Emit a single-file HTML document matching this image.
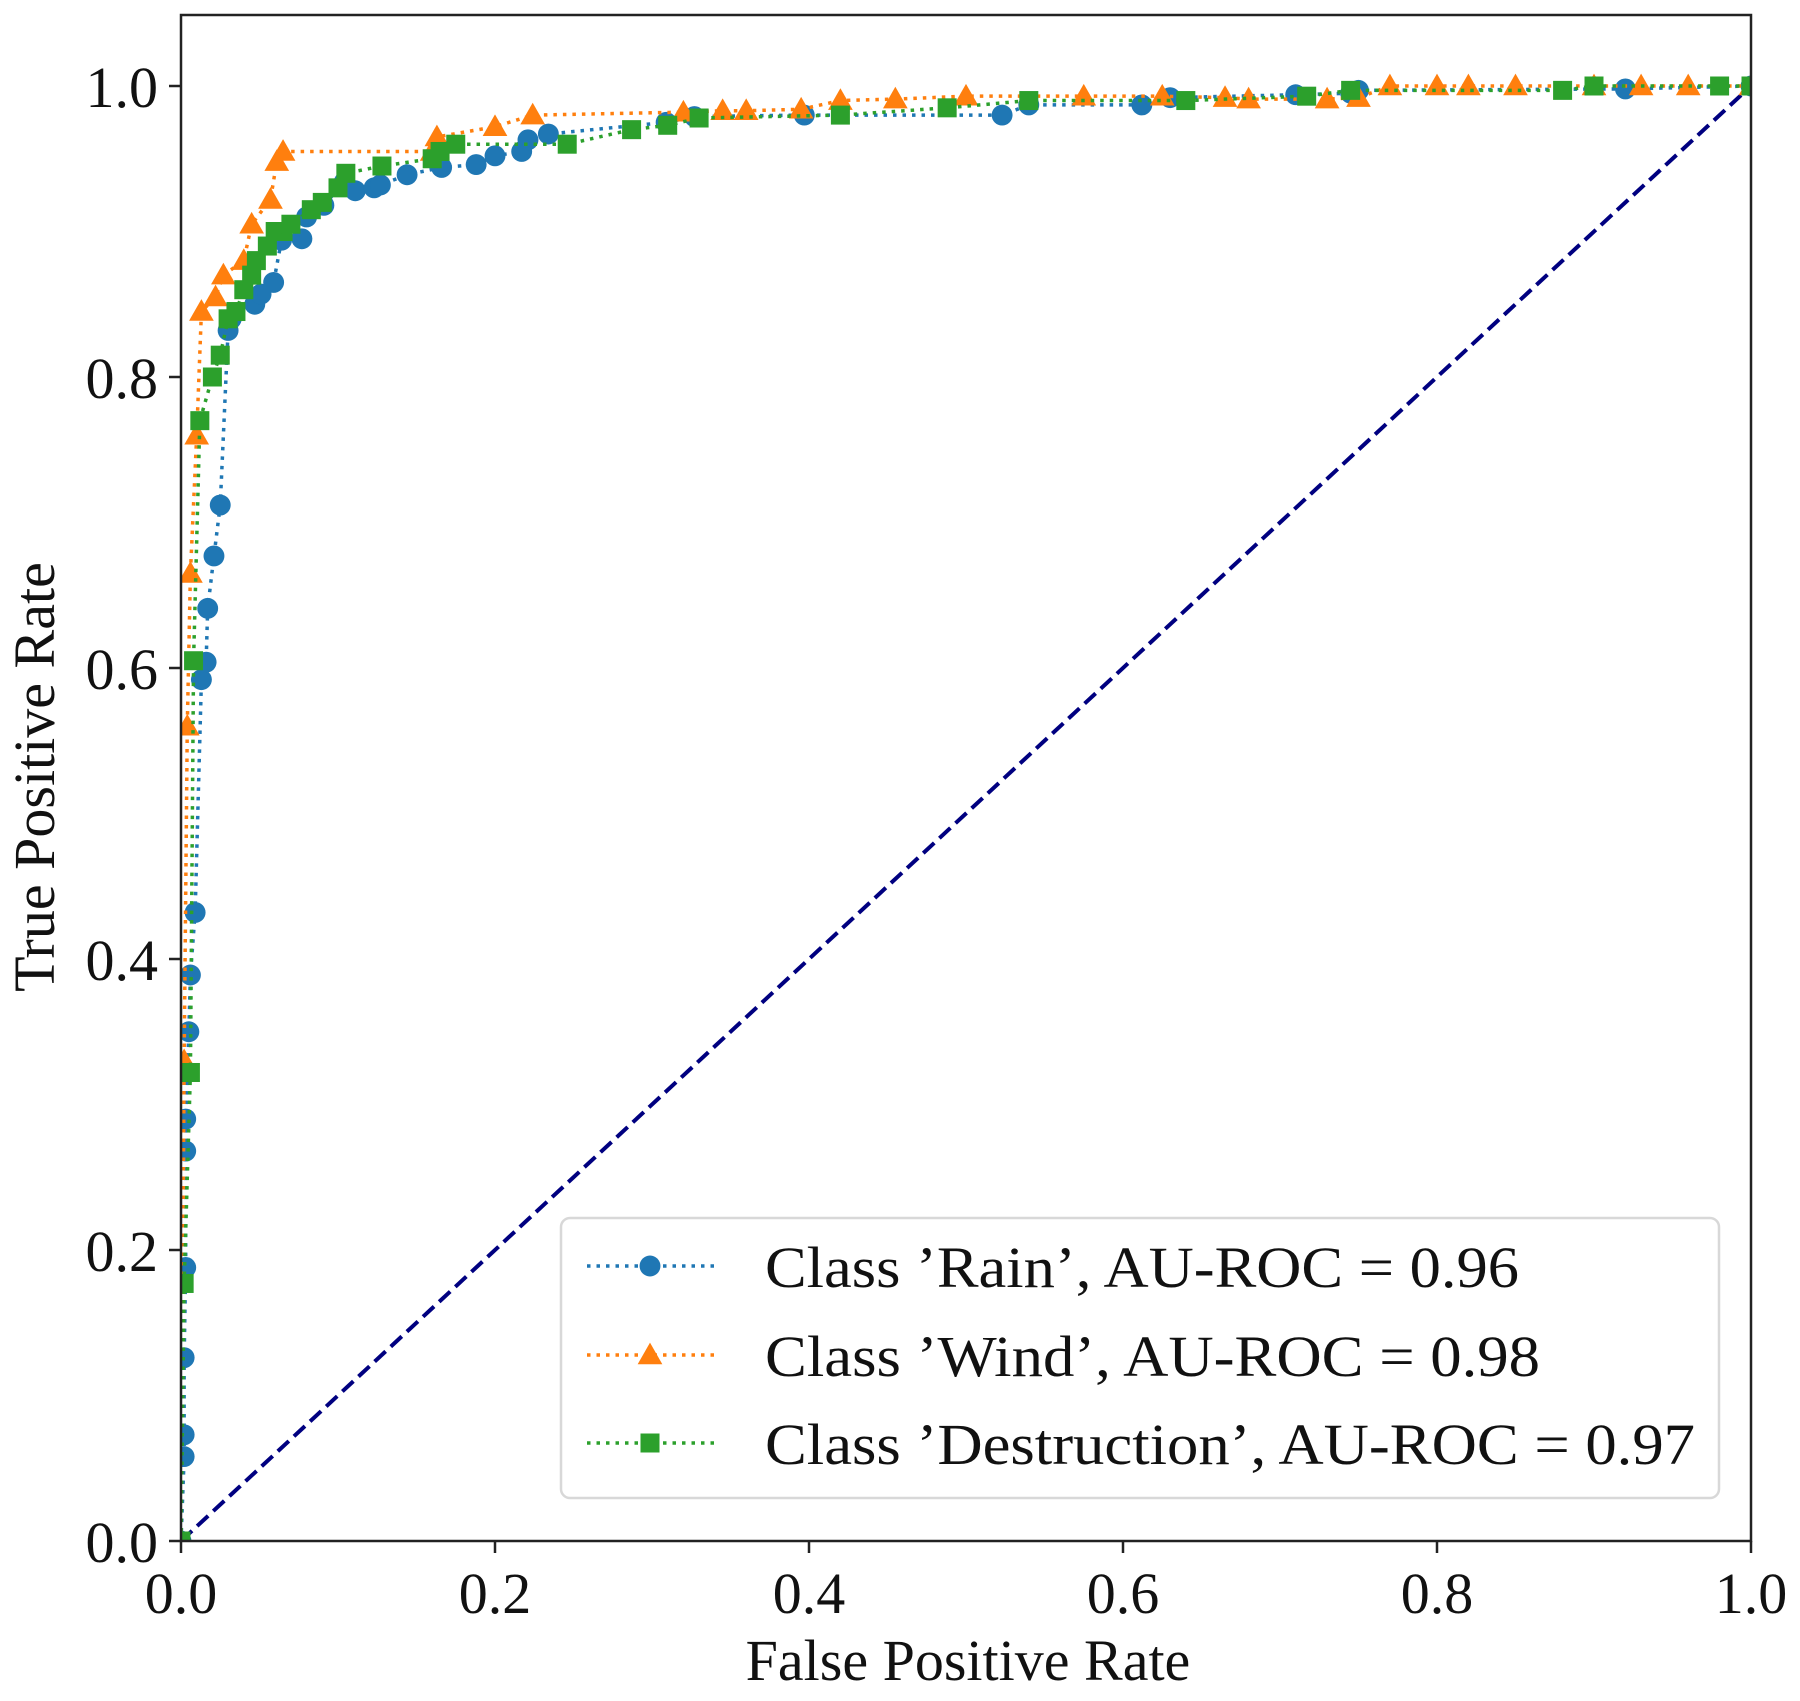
<!DOCTYPE html>
<html><head><meta charset="utf-8"><style>
html,body{margin:0;padding:0;background:#fff;}
svg text{font-family:"Liberation Serif",serif;fill:#111;}
</style></head><body>
<svg id="chart" width="1800" height="1696" viewBox="0 0 1800 1696" xmlns="http://www.w3.org/2000/svg">
<rect x="0" y="0" width="1800" height="1696" fill="#fff"/>
<g id="plot"></g>
<g id="axes"></g>
<g id="legend"></g>
</svg>
<script>
const xTicks = [0, 0.2, 0.4, 0.6, 0.8, 1.0];
const yTicks = [0, 0.2, 0.4, 0.6, 0.8, 1.0];
const tickLabels = ["0.0", "0.2", "0.4", "0.6", "0.8", "1.0"];
const rainX = [0,0.002,0.002,0.002,0.003,0.003,0.003,0.005,0.006,0.009,0.013,0.016,0.017,0.021,0.025,0.03,0.032,0.047,0.051,0.059,0.064,0.077,0.08,0.091,0.104,0.111,0.123,0.127,0.144,0.166,0.188,0.2,0.217,0.221,0.234,0.309,0.327,0.397,0.523,0.54,0.612,0.63,0.71,0.745,0.75,0.92,1];
const rainY = [0,0.058,0.073,0.126,0.188,0.268,0.29,0.35,0.389,0.432,0.592,0.604,0.641,0.677,0.712,0.832,0.84,0.85,0.857,0.865,0.894,0.895,0.91,0.918,0.934,0.928,0.93,0.932,0.939,0.944,0.946,0.952,0.955,0.963,0.967,0.975,0.979,0.98,0.98,0.987,0.987,0.992,0.994,0.995,0.997,0.998,1];
const windX = [0,0.002,0.004,0.006,0.01,0.013,0.022,0.027,0.04,0.045,0.057,0.061,0.065,0.16,0.163,0.2,0.224,0.32,0.345,0.36,0.395,0.42,0.455,0.5,0.575,0.625,0.665,0.68,0.73,0.75,0.77,0.8,0.82,0.85,0.9,0.93,0.96,1];
const windY = [0,0.33,0.56,0.665,0.76,0.845,0.855,0.87,0.88,0.905,0.922,0.948,0.955,0.955,0.965,0.972,0.98,0.982,0.983,0.983,0.984,0.99,0.991,0.993,0.993,0.993,0.992,0.991,0.991,0.992,1,1,1,1,1,1,1,1];
const destX = [0,0.002,0.006,0.008,0.012,0.02,0.025,0.03,0.035,0.04,0.045,0.048,0.055,0.06,0.065,0.07,0.083,0.09,0.1,0.105,0.128,0.16,0.165,0.175,0.246,0.287,0.31,0.33,0.42,0.488,0.54,0.64,0.717,0.745,0.88,0.9,0.98,1];
const destY = [0,0.177,0.322,0.605,0.77,0.8,0.815,0.84,0.845,0.86,0.87,0.88,0.89,0.9,0.9,0.905,0.915,0.92,0.93,0.94,0.945,0.95,0.955,0.96,0.96,0.97,0.973,0.978,0.98,0.985,0.99,0.99,0.993,0.997,0.997,1,1,1];
const seriesNames = ["Class \u2019Rain\u2019, AU-ROC = 0.96","Class \u2019Wind\u2019, AU-ROC = 0.98","Class \u2019Destruction\u2019, AU-ROC = 0.97"];

const NS="http://www.w3.org/2000/svg";
const X0=181,X1=1751,Y0=1541,Y1=86,TOP=15;
function sx(v){return X0+v*(X1-X0);}
function sy(v){return Y0-v*(Y0-Y1);}
function mk(tag,attrs,parent){const e=document.createElementNS(NS,tag);for(const k in attrs)e.setAttribute(k,attrs[k]);parent.appendChild(e);return e;}
const plot=document.getElementById('plot'),axes=document.getElementById('axes'),legend=document.getElementById('legend');

// clip
const defs=mk('defs',{},plot);
const cp=mk('clipPath',{id:'clip'},defs);
mk('rect',{x:X0,y:TOP,width:X1-X0,height:Y0-TOP},cp);
const inner=mk('g',{'clip-path':'url(#clip)'},plot);

// diagonal
const diag=mk('line',{x1:sx(0),y1:sy(0),x2:sx(1),y2:sy(1),stroke:'#000080','stroke-width':4,'stroke-dasharray':'15 7'},inner);



function marker(type,x,y,color,parent,size){
  let e;
  if(type==='circle'){e=mk('circle',{cx:x,cy:y,r:size*0.55,fill:color},parent);}
  else if(type==='tri'){const s=size*0.65;e=mk('polygon',{points:`${x},${y-s} ${x-s},${y+s*0.75} ${x+s},${y+s*0.75}`,fill:color},parent);}
  else {const s=size*0.5;e=mk('rect',{x:x-s,y:y-s,width:2*s,height:2*s,fill:color},parent);}
  return e;
}
const series=[
 {xs:rainX,ys:rainY,color:'#1f77b4',m:'circle',name:'rain'},
 {xs:windX,ys:windY,color:'#ff7f0e',m:'tri',name:'wind'},
 {xs:destX,ys:destY,color:'#2ca02c',m:'square',name:'destruction'}
];
series.forEach(s=>{
  const g=mk('g',{},inner);
  
  
  const pts=s.xs.map((v,i)=>sx(v)+','+sy(s.ys[i])).join(' ');
  const pl=mk('polyline',{points:pts,fill:'none',stroke:s.color,'stroke-width':3.5,'stroke-dasharray':'3.5 6','stroke-linecap':'butt'},g);
  
  
  s.xs.forEach((v,i)=>{
    const m=marker(s.m,sx(v),sy(s.ys[i]),s.color,g,19);
    
    
  });
});

// frame
const frame=mk('rect',{x:X0,y:TOP,width:X1-X0,height:Y0-TOP,fill:'none',stroke:'#222','stroke-width':2.5},axes);



xTicks.forEach((v,i)=>{
  const t=mk('line',{x1:sx(v),y1:Y0,x2:sx(v),y2:Y0+12,stroke:'#222','stroke-width':2.5},axes);
  
  
  const l=mk('text',{x:sx(v),y:1613,'font-size':58,'text-anchor':'middle'},axes);
  l.textContent=tickLabels[i];
  
  
});
yTicks.forEach((v,i)=>{
  const t=mk('line',{x1:X0-12,y1:sy(v),x2:X0,y2:sy(v),stroke:'#222','stroke-width':2.5},axes);
  
  
  const l=mk('text',{x:158,y:sy(v)+21,'font-size':58,'text-anchor':'end'},axes);
  l.textContent=tickLabels[i];
  
  
});
const xl=mk('text',{x:968,y:1680,'font-size':58,'text-anchor':'middle'},axes);
xl.textContent='False Positive Rate';


const yl=mk('text',{x:0,y:0,'font-size':58,'text-anchor':'middle',transform:'translate(54,777) rotate(-90)'},axes);
yl.textContent='True Positive Rate';



// legend
const lb=mk('rect',{x:561,y:1218,width:1158,height:280,rx:9,fill:'#fff','fill-opacity':0.85,stroke:'#d8d8d8','stroke-width':2.5},legend);


const rows=[1266,1355,1443];
const widths=[754,775,930];
series.forEach((s,i)=>{
  const g=mk('g',{},legend);
  
  
  mk('line',{x1:587,y1:rows[i],x2:714,y2:rows[i],stroke:s.color,'stroke-width':3.5,'stroke-dasharray':'3.5 6'},g);
  marker(s.m,650,rows[i],s.color,g,19);
  const t=mk('text',{x:765,y:rows[i]+21,'font-size':58,textLength:widths[i],lengthAdjust:'spacingAndGlyphs'},g);
  t.textContent=seriesNames[i];
});
</script>
</body></html>
